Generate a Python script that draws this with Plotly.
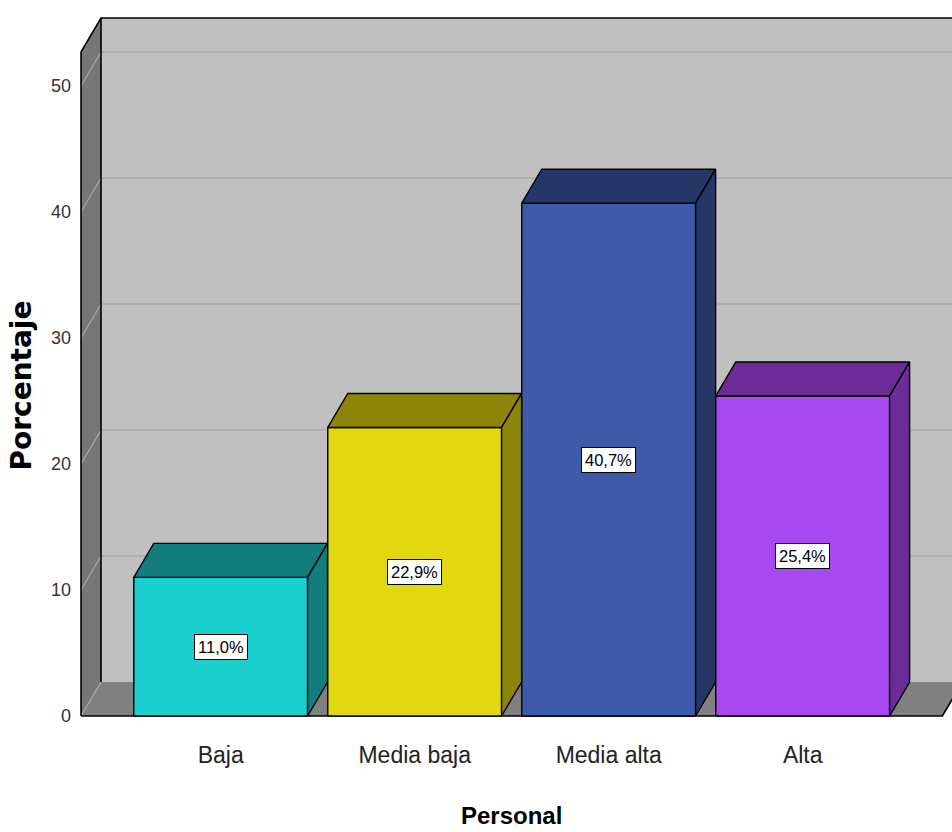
import plotly.graph_objects as go

# Frequencies of the "Personal" variable (percent)
categories = ["Baja", "Media baja", "Media alta", "Alta"]
values = [11.0, 22.9, 40.7, 25.4]
front_colors = ["#1ccfcf", "#e2d811", "#3e5aa8", "#a84af0"]
shade_colors = ["#127d7c", "#8c850a", "#263767", "#6b2c98"]
y_ticks = [0, 10, 20, 30, 40, 50]
y_tick_labels = ["0", "10", "20", "30", "40", "50"]

# 3D box geometry (data units)
DX, DY = 0.1031, 2.698          # depth offset of the back plane
HALF = 0.448                    # half bar width
FL, FR = -0.72, 3.72            # floor front left / right
TOP = 52.7                      # wall height at the front plane

fig = go.Figure()


def poly(xs, ys, fill, line_color=None, width=0):
    fig.add_trace(go.Scatter(
        x=xs + [xs[0]], y=ys + [ys[0]], mode="lines", fill="toself",
        fillcolor=fill, line=dict(color=line_color or fill, width=width),
        hoverinfo="skip", showlegend=False))


def seg(xs, ys, color, width):
    fig.add_trace(go.Scatter(x=xs, y=ys, mode="lines",
                             line=dict(color=color, width=width),
                             hoverinfo="skip", showlegend=False))


# back wall
poly([FL + DX, FR + DX + 1, FR + DX + 1, FL + DX], [DY, DY, TOP + DY, TOP + DY], "#c0c0c0")
# floor
poly([FL, FR, FR + DX, FL + DX], [0, 0, DY, DY], "#808080")
# left wall
poly([FL, FL + DX, FL + DX, FL], [0, DY, TOP + DY, TOP], "#777777")

# grid lines on back wall and left wall
for t in y_ticks:
    if t > 0:
        seg([FL + DX, FR + DX + 1], [t + DY, t + DY], "#ababab", 1.5)
    seg([FL, FL + DX], [t, t + DY], "#a8a8a8", 1.2)

# box edges
seg([FL, FL], [0, TOP], "black", 1.6)
seg([FL + DX, FL + DX], [DY, TOP + DY], "black", 1.6)
seg([FL, FL + DX, FR + DX + 1], [TOP, TOP + DY, TOP + DY], "black", 1.6)
seg([FL, FR, FR + DX], [0, 0, DY], "black", 1.6)

# bars
for i, (v, fc, sc) in enumerate(zip(values, front_colors, shade_colors)):
    x0, x1 = i - HALF, i + HALF
    poly([x0, x1, x1, x0], [0, 0, v, v], fc, "black", 1.4)
    poly([x0, x1, x1 + DX, x0 + DX], [v, v, v + DY, v + DY], sc, "black", 1.4)
    poly([x1, x1 + DX, x1 + DX, x1], [0, DY, v + DY, v], sc, "black", 1.4)

# value labels
for i, v in enumerate(values):
    fig.add_annotation(
        x=i, y=v / 2, text=f"{v:.1f}%".replace(".", ","), showarrow=False,
        bgcolor="white", bordercolor="black", borderwidth=1, borderpad=3,
        font=dict(family="Liberation Sans, Arial, sans-serif", size=16.5, color="black"))

# axis titles
fig.add_annotation(x=1.5, y=-0.1364, xref="x", yref="paper", text="<b>Personal</b>",
                   showarrow=False, yanchor="middle",
                   font=dict(family="Liberation Sans, Arial, sans-serif", size=24, color="black"))
fig.add_annotation(x=-0.065, y=0.474, xref="paper", yref="paper", text="<b>Porcentaje</b>",
                   textangle=-90, showarrow=False, xanchor="center", yanchor="middle",
                   font=dict(family="DejaVu Sans, sans-serif", size=28, color="black"))

fig.update_layout(
    width=952, height=832,
    margin=dict(l=78, r=0, t=15, b=113),
    paper_bgcolor="white", plot_bgcolor="white",
    showlegend=False,
    xaxis=dict(range=[-0.7355, 3.7696], tickvals=list(range(len(categories))), ticktext=categories,
               showgrid=False, zeroline=False, showline=False, ticks="",
               ticklabelstandoff=20,
               tickfont=dict(family="Liberation Sans, Arial, sans-serif", size=23, color="#222222")),
    yaxis=dict(range=[-0.238, 55.635], tickvals=y_ticks, ticktext=y_tick_labels,
               showgrid=False, zeroline=False, showline=False, ticks="",
               ticklabelstandoff=6,
               tickfont=dict(family="Liberation Sans, Arial, sans-serif", size=18, color="#333333")),
)

fig.write_html("out.html")
